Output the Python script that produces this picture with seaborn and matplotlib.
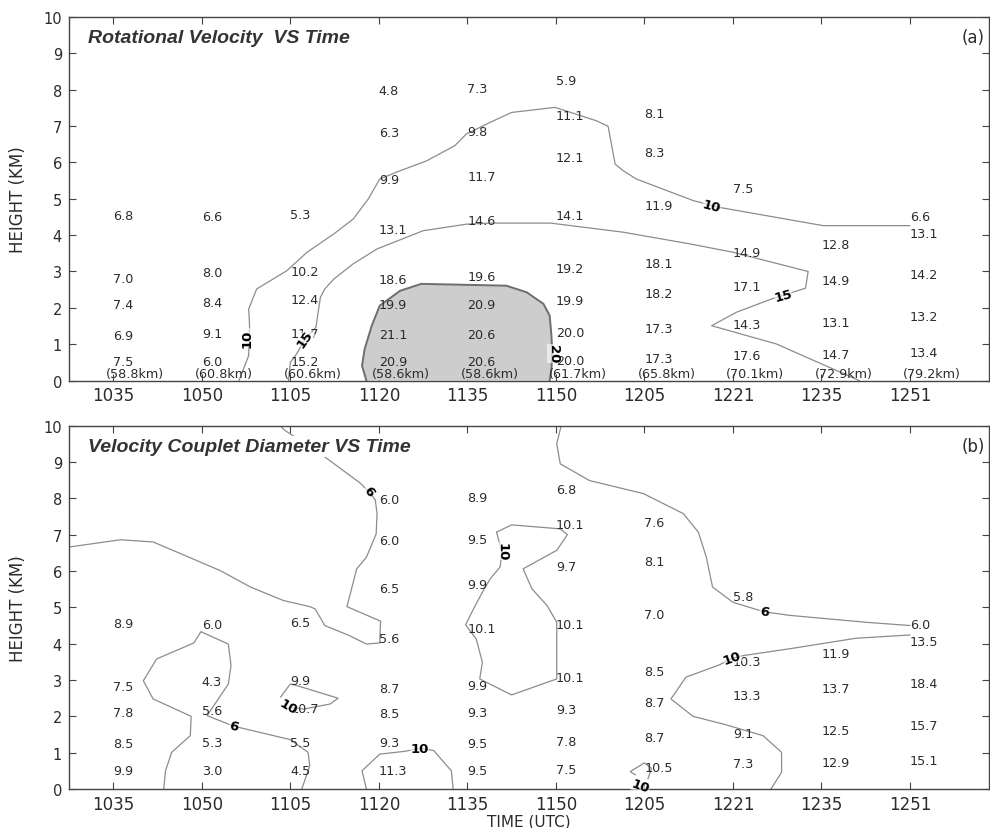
import numpy as np
import pandas as pd
import matplotlib.pyplot as plt
import seaborn as sns

""" Data """
times = ['1035', '1050', '1105', '1120', '1135', '1150', '1205', '1221', '1235', '1251']
ranges = ['(58.8km)', '(60.8km)', '(60.6km)', '(58.6km)', '(58.6km)',
          '(61.7km)', '(65.8km)', '(70.1km)', '(72.9km)', '(79.2km)']

# sample heights (km) at each scan time, shared by both panels
heights = [
    [4.55, 2.81, 2.10, 1.25, 0.52],
    [4.52, 2.96, 2.16, 1.29, 0.52],
    [4.57, 3.00, 2.23, 1.29, 0.52],
    [7.97, 6.83, 5.53, 4.15, 2.78, 2.08, 1.27, 0.52],
    [8.03, 6.86, 5.62, 4.41, 2.85, 2.10, 1.26, 0.52],
    [8.24, 7.29, 6.13, 4.54, 3.07, 2.20, 1.31, 0.55],
    [7.34, 6.26, 4.80, 3.23, 2.39, 1.42, 0.60],
    [5.29, 3.51, 2.58, 1.54, 0.69],
    [3.73, 2.76, 1.60, 0.72],
    [4.52, 4.05, 2.91, 1.76, 0.78],
]
rot_vel = [
    [6.8, 7.0, 7.4, 6.9, 7.5],
    [6.6, 8.0, 8.4, 9.1, 6.0],
    [5.3, 10.2, 12.4, 11.7, 15.2],
    [4.8, 6.3, 9.9, 13.1, 18.6, 19.9, 21.1, 20.9],
    [7.3, 9.8, 11.7, 14.6, 19.6, 20.9, 20.6, 20.6],
    [5.9, 11.1, 12.1, 14.1, 19.2, 19.9, 20.0, 20.0],
    [8.1, 8.3, 11.9, 18.1, 18.2, 17.3, 17.3],
    [7.5, 14.9, 17.1, 14.3, 17.6],
    [12.8, 14.9, 13.1, 14.7],
    [6.6, 13.1, 14.2, 13.2, 13.4],
]
diameter = [
    [8.9, 7.5, 7.8, 8.5, 9.9],
    [6.0, 4.3, 5.6, 5.3, 3.0],
    [6.5, 9.9, 10.7, 5.5, 4.5],
    [6.0, 6.0, 6.5, 5.6, 8.7, 8.5, 9.3, 11.3],
    [8.9, 9.5, 9.9, 10.1, 9.9, 9.3, 9.5, 9.5],
    [6.8, 10.1, 9.7, 10.1, 10.1, 9.3, 7.8, 7.5],
    [7.6, 8.1, 7.0, 8.5, 8.7, 8.7, 10.5],
    [5.8, 10.3, 13.3, 9.1, 7.3],
    [11.9, 13.7, 12.5, 12.9],
    [6.0, 13.5, 18.4, 15.7, 15.1],
]

# hand-analysed isolines (x = scan index, y = km)
a_iso10 = [(1.42, 0), (1.53, 0.69), (1.54, 1.51), (1.53, 1.97), (1.62, 2.52), (1.96, 3.02),
           (2.19, 3.53), (2.49, 4.03), (2.71, 4.44), (2.88, 4.99), (3.01, 5.54), (3.2, 5.73),
           (3.54, 6.04), (3.86, 6.46), (3.99, 6.78), (4.26, 7.1), (4.5, 7.37), (4.99, 7.51),
           (5.46, 7.14), (5.59, 6.99), (5.67, 5.95), (5.76, 5.77), (5.91, 5.54), (6.55, 4.95),
           (6.85, 4.76), (8.02, 4.26), (9.0, 4.26)]
a_iso15 = [(1.98, 0), (2.0, 0.5), (2.07, 0.73), (2.17, 1.15), (2.29, 1.47), (2.32, 1.97),
           (2.34, 2.29), (2.39, 2.52), (2.49, 2.79), (2.71, 3.21), (2.98, 3.62), (3.5, 4.12),
           (3.99, 4.3), (4.26, 4.33), (4.94, 4.33), (5.76, 4.08), (6.51, 3.76), (7.0, 3.53),
           (7.85, 3.0), (7.82, 2.54), (7.57, 2.35), (7.42, 2.23), (7.04, 1.88), (6.76, 1.51),
           (7.49, 1.01), (8.43, 0)]
a_iso20 = [(2.86, 0), (2.81, 0.41), (2.84, 0.87), (2.92, 1.51), (3.01, 2.06), (3.24, 2.47),
           (3.48, 2.66), (4.44, 2.61), (4.67, 2.43), (4.86, 2.11), (4.93, 1.79), (4.95, 1.24),
           (4.96, 0.73), (4.95, 0.32), (4.93, 0)]
a_labels = [('10', 1.51, 1.19, 90), ('10', 6.76, 4.81, -15), ('15', 2.17, 1.15, 55),
            ('15', 7.57, 2.35, 15), ('20', 4.97, 0.75, -90)]

b_iso6_upper = [(1.885, 10.0), (1.94, 9.87), (2.39, 9.14), (2.79, 8.42), (2.88, 8.2), (2.96, 7.96),
                (2.98, 7.58), (2.97, 7.02), (2.86, 6.38), (2.75, 6.06), (2.64, 5.02), (3.02, 4.62),
                (3.01, 4.02), (2.86, 3.99), (2.67, 4.22), (2.39, 4.5), (2.28, 4.96), (2.22, 5.02),
                (1.92, 5.19), (1.55, 5.56), (1.21, 6.01), (0.98, 6.25), (0.45, 6.8), (0.08, 6.86),
                (-0.5, 6.66)]
b_iso6_lower = [(0.57, 0), (0.59, 0.5), (0.66, 1.01), (0.87, 1.47), (0.88, 2.0), (0.45, 2.48),
                (0.34, 2.98), (0.49, 3.58), (0.91, 4.02), (0.99, 4.33), (1.3, 3.99), (1.33, 3.4),
                (1.3, 2.89), (1.06, 2.02), (1.36, 1.73), (2.0, 1.36), (2.2, 1.01), (2.22, 0.64),
                (2.13, 0)]
b_iso6_right = [(5.06, 10.0), (5.01, 9.5), (5.05, 8.95), (5.38, 8.49), (5.99, 8.13), (6.44, 7.58),
                (6.61, 7.07), (6.7, 6.38), (6.77, 5.56), (7.0, 5.14), (7.35, 4.88), (7.64, 4.78),
                (8.5, 4.59), (9.0, 4.5)]
b_iso10_1105 = [(2.0, 2.25), (2.15, 2.2), (2.45, 2.34), (2.54, 2.5), (2.07, 2.85), (2.0, 2.89),
                (1.89, 2.53)]
b_iso10_1120 = [(2.86, 0), (2.81, 0.5), (3.01, 0.96), (3.3, 1.04), (3.46, 1.12), (3.62, 1.06),
                (3.82, 0.5), (3.84, 0)]
b_iso10_1140 = [(4.33, 7.07), (4.5, 7.27), (5.05, 7.16), (5.13, 7.0), (5.01, 6.57), (4.63, 6.06),
                (4.73, 5.51), (4.9, 5.05), (5.01, 4.59), (5.01, 3.03), (4.5, 2.59), (4.14, 3.03),
                (4.17, 3.49), (4.1, 4.13), (3.98, 4.52), (4.07, 4.96), (4.18, 5.46), (4.26, 5.79),
                (4.37, 6.11), (4.39, 6.52), (4.33, 7.07)]
b_iso10_1205 = [(5.9, 0.39), (5.84, 0.48), (6.0, 0.72), (6.08, 0.57), (6.04, 0.28)]
b_iso10_right = [(9.0, 4.24), (8.39, 4.15), (7.64, 3.86), (7.11, 3.67), (6.99, 3.6), (6.85, 3.42),
                 (6.47, 3.08), (6.3, 2.48), (6.55, 2.0), (6.89, 1.79), (7.34, 1.47), (7.55, 1.01),
                 (7.55, 0.46), (7.43, 0)]
b_labels = [('6', 2.88, 8.2, -55), ('6', 1.36, 1.73, -15), ('6', 7.35, 4.88, -10),
            ('10', 1.98, 2.26, -30), ('10', 3.46, 1.12, 0), ('10', 4.39, 6.55, -90),
            ('10', 5.96, 0.08, -20), ('10', 6.99, 3.62, 20)]

""" Style """
sns.set_style('ticks')
plt.rcParams['font.family'] = ['DejaVu Sans']
plt.rcParams['xtick.direction'] = 'in'
plt.rcParams['ytick.direction'] = 'in'

line_col = '#8c8c8c'
text_col = '#2b2b2b'

fig = plt.figure(figsize=(9.9, 8.29), dpi=100)
ax_a = fig.add_axes([0.0697, 0.5396, 0.929, 0.439])
ax_b = fig.add_axes([0.0697, 0.0470, 0.929, 0.4383])


def draw_iso(ax, pts, lw=0.9, color=line_col):
    df = pd.DataFrame(pts, columns=['x', 'y'])
    sns.lineplot(data=df, x='x', y='y', sort=False, estimator=None, ax=ax,
                 color=color, lw=lw, zorder=2)


def put_values(ax, vals):
    for i, (hs, vs) in enumerate(zip(heights, vals)):
        for h, v in zip(hs, vs):
            ax.text(i, h, f'{v:.1f}', ha='left', va='center', fontsize=9.2,
                    color=text_col, zorder=4)


def put_labels(ax, labels):
    for txt, x, y, rot in labels:
        ax.text(x, y, txt, ha='center', va='center', rotation=rot, fontsize=9.5,
                fontweight='bold', color='black', zorder=5,
                bbox=dict(fc='white', ec='none', pad=0.1, alpha=0.6))


def style_axes(ax, title, tag):
    ax.set_xlim(-0.5, 9.89)
    ax.set_ylim(0, 10)
    ax.set_xticks(range(len(times)))
    ax.set_xticklabels(times, fontsize=12, color=text_col)
    ax.set_yticks(range(11))
    ax.set_yticklabels([str(i) for i in range(11)], fontsize=10.5, color=text_col)
    ax.tick_params(top=True, right=True, length=5, width=0.8, color='#444', pad=5)
    ax.tick_params(axis='x', pad=4)
    for s in ax.spines.values():
        s.set_visible(True)
        s.set_color('#444')
        s.set_linewidth(1.0)
    ax.set_ylabel('HEIGHT (KM)', fontsize=12, color=text_col, labelpad=12)
    ax.set_xlabel('')
    ax.text(0.021, 0.943, title, transform=ax.transAxes, ha='left', va='center',
            fontsize=14, fontweight='bold', fontstyle='italic', color='#333',
            family='Liberation Sans', zorder=6,
            bbox=dict(fc='white', ec='none', pad=1.5))
    ax.text(0.996, 0.943, tag, transform=ax.transAxes, ha='right', va='center',
            fontsize=12, color=text_col)


""" Panel (a): rotational velocity """
shade = pd.DataFrame(a_iso20, columns=['x', 'y'])
ax_a.fill(shade['x'], shade['y'], facecolor='#cdcdcd', edgecolor='none', zorder=1)
draw_iso(ax_a, a_iso20, lw=1.4, color='#6e6e6e')
draw_iso(ax_a, a_iso10)
draw_iso(ax_a, a_iso15)
put_values(ax_a, rot_vel)
for i, r in enumerate(ranges):
    ax_a.text(i + 0.25, 0.2, r, ha='center', va='center', fontsize=9.2,
              color=text_col, zorder=4)
put_labels(ax_a, a_labels)
style_axes(ax_a, 'Rotational Velocity  VS Time', '(a)')

""" Panel (b): couplet diameter """
for iso in [b_iso6_upper, b_iso6_lower, b_iso6_right, b_iso10_1105, b_iso10_1120,
            b_iso10_1140, b_iso10_1205, b_iso10_right]:
    draw_iso(ax_b, iso)
put_values(ax_b, diameter)
put_labels(ax_b, b_labels)
style_axes(ax_b, 'Velocity Couplet Diameter VS Time', '(b)')
ax_b.set_xlabel('TIME (UTC)', fontsize=11, color=text_col)
ax_b.xaxis.set_label_coords(0.5, -0.067)

plt.savefig('out.png', dpi=100)
